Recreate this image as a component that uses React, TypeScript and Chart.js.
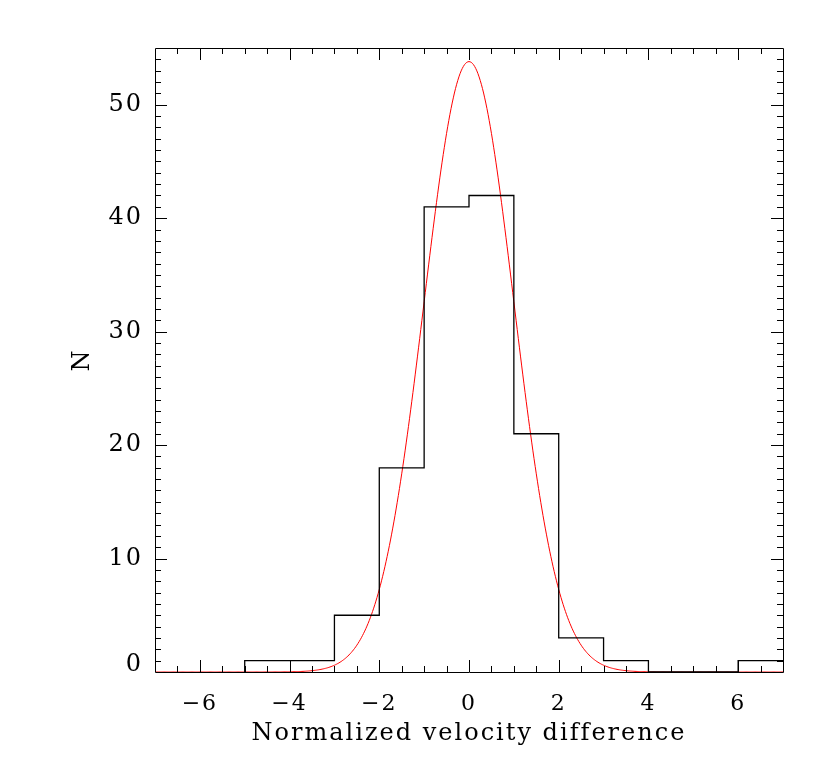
import React, { useEffect, useRef } from "react";
import { Chart, registerables } from "chart.js";

Chart.register(...registerables);

// Histogram: bin left edges (width 1) and counts
const binLeftEdges = [-5, -4, -3, -2, -1, 0, 1, 2, 3, 4, 5, 6];
const binCounts = [1, 1, 5, 18, 41, 42, 21, 3, 1, 0, 0, 1];
const binWidth = 1;

// Gaussian fit parameters (red model curve)
const fitAmplitude = 53.8;
const fitMean = 0;
const fitSigma = 1.0;

const xMin = -7;
const xMax = 7;
const yMin = 0;
const yMax = 55;
const xTickValues = [-6, -4, -2, 0, 2, 4, 6];
const yTickValues = [0, 10, 20, 30, 40, 50];

const xTitle = "Normalized velocity difference";
const yTitle = "N";

const FONT = "'DejaVu Serif', serif";

function fmt(v: number) {
  return v < 0 ? "\u2212" + Math.abs(v) : String(v);
}

export default function App() {
  const ref = useRef<HTMLCanvasElement | null>(null);

  useEffect(() => {
    document.body.style.margin = "0";
    const canvas = ref.current!;
    const histPts: { x: number; y: number }[] = [{ x: binLeftEdges[0], y: 0 }];
    binLeftEdges.forEach((x, i) => histPts.push({ x, y: binCounts[i] }));
    const lastEdge = binLeftEdges[binLeftEdges.length - 1] + binWidth;
    histPts.push({ x: lastEdge, y: binCounts[binCounts.length - 1] });

    const fitPts: { x: number; y: number }[] = [];
    const n = 560;
    for (let i = 0; i <= n; i++) {
      const x = xMin + ((xMax - xMin) * i) / n;
      const y = fitAmplitude * Math.exp(-((x - fitMean) ** 2) / (2 * fitSigma * fitSigma));
      fitPts.push({ x, y });
    }

    const spacingPlugin = {
      id: "spacing",
      beforeDraw(chart: any) {
        try {
          (chart.ctx as any).letterSpacing = "2px";
        } catch (e) {}
      },
    };

    const framePlugin = {
      id: "idlFrame",
      afterDatasetsDraw(chart: any) {
        const { ctx, chartArea: a, scales } = chart;
        const xs = scales.x;
        const ys = scales.y;
        ctx.save();
        ctx.strokeStyle = "#000";
        ctx.lineWidth = 1;
        ctx.beginPath();
        const snap = (v: number) => Math.round(v) + 0.5;
        ctx.rect(snap(a.left), snap(a.top), Math.round(a.right - a.left), Math.round(a.bottom - a.top));
        for (let k = 0; k <= 28; k++) {
          const v = xMin + k * 0.5;
          if (v <= xMin || v >= xMax) continue;
          const px = snap(xs.getPixelForValue(v));
          const len = Math.abs(v % 2) < 1e-9 ? 12 : 6;
          ctx.moveTo(px, a.bottom);
          ctx.lineTo(px, a.bottom - len);
          ctx.moveTo(px, a.top);
          ctx.lineTo(px, a.top + len);
        }
        for (let v = yMin + 1; v < yMax; v++) {
          const py = snap(ys.getPixelForValue(v));
          const len = v % 10 === 0 ? 12 : 6;
          ctx.moveTo(a.left, py);
          ctx.lineTo(a.left + len, py);
          ctx.moveTo(a.right, py);
          ctx.lineTo(a.right - len, py);
        }
        ctx.stroke();
        ctx.restore();
      },
    };

    const chart = new Chart(canvas, {
      type: "line",
      data: {
        datasets: [
          {
            data: histPts,
            borderColor: "#000",
            borderWidth: 1.3,
            stepped: "before",
            pointRadius: 0,
            fill: false,
          },
          {
            data: fitPts,
            borderColor: "#ff0000",
            borderWidth: 1,
            pointRadius: 0,
            tension: 0,
            fill: false,
          },
        ],
      },
      options: {
        animation: false,
        responsive: false,
        events: [],
        layout: { padding: { top: 48, right: 47, left: 0, bottom: 0 } },
        plugins: { legend: { display: false }, tooltip: { enabled: false } },
        scales: {
          x: {
            type: "linear",
            min: xMin,
            max: xMax,
            grid: { display: false },
            border: { display: false },
            afterBuildTicks: (s: any) => {
              s.ticks = xTickValues.map((v) => ({ value: v }));
            },
            afterFit: (s: any) => {
              s.height = 99;
            },
            ticks: {
              color: "#000",
              padding: 11,
              maxRotation: 0,
              font: { family: FONT, size: 22 },
              callback: (v: any) => fmt(Number(v)),
            },
            title: {
              display: true,
              text: xTitle,
              color: "#000",
              font: { family: FONT, size: 24 },
              padding: { top: 0, bottom: 23 },
            },
          },
          y: {
            type: "linear",
            min: yMin,
            max: yMax,
            grid: { display: false },
            border: { display: false },
            afterBuildTicks: (s: any) => {
              s.ticks = yTickValues.map((v) => ({ value: v }));
            },
            afterFit: (s: any) => {
              s.width = 155;
            },
            ticks: {
              color: "#000",
              padding: 4,
              font: (c: any) =>
                c.tick && c.tick.value === 0
                  ? { family: FONT, size: 24, lineHeight: 0.6 }
                  : { family: FONT, size: 24 },
              callback: (v: any) => (Number(v) === 0 ? ["0", ""] : fmt(Number(v))),
            },
            title: {
              display: true,
              text: yTitle,
              color: "#000",
              font: { family: FONT, size: 24 },
              padding: { top: 68, bottom: 0 },
            },
          },
        },
      },
      plugins: [spacingPlugin, framePlugin],
    });
    return () => chart.destroy();
  }, []);

  return (
    <div style={{ position: "absolute", left: 0, top: 0, width: 830, height: 771, background: "#fff" }}>
      <canvas ref={ref} width={830} height={771} style={{ width: 830, height: 771, display: "block" }} />
    </div>
  );
}
